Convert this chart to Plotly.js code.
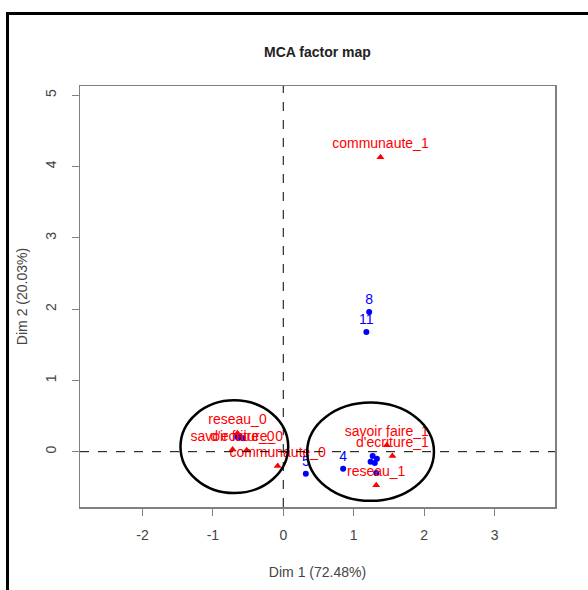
<!DOCTYPE html>
<html>
<head>
<meta charset="utf-8">
<script src="https://cdn.plot.ly/plotly-3.0.1.min.js"></script>
<style>
  html, body { margin: 0; padding: 0; background: #fff; }
  #chart { width: 588px; height: 590px; }
  #frame { position: absolute; left: 6px; top: 12px; width: 600px; height: 600px;
           border-left: 3px solid #000; border-top: 3px solid #000; pointer-events: none; }
</style>
</head>
<body>
<div id="chart"></div>
<div id="frame"></div>
<script>
// Individuals (blue) whose labels are readable
const indNames = ["8", "11", "5", "4"];
const indX = [1.22, 1.18, 0.32, 0.85];
const indY = [1.96, 1.68, -0.31, -0.24];

// Individuals (blue) inside the crowded clusters (labels hidden under the category labels)
const indClusterNames = ["2", "6", "7", "9", "1", "3", "10", "12"];
const indClusterX = [1.27, 1.33, 1.24, 1.30, 1.32, -0.62, -0.57, -0.66];
const indClusterY = [-0.06, -0.10, -0.14, -0.16, -0.30, 0.20, 0.19, 0.21];

// Variable categories (red)
const varNames = ["communaute_1", "communaute_0", "reseau_0", "reseau_1",
                  "savoir faire_0", "d'ecriture_0", "savoir faire_1", "d'ecriture_1"];
const varX = [1.38, -0.08, -0.65, 1.32, -0.72, -0.52, 1.47, 1.55];
const varY = [4.13, -0.20, 0.26, -0.47, 0.03, 0.02, 0.09, -0.06];

// Axis info
const xTicks = [-2, -1, 0, 1, 2, 3];
const yTicks = [0, 1, 2, 3, 4, 5];
const xRange = [-2.887, 3.859];
const yRange = [-0.776, 5.13];

// Hand-drawn ellipses (data coords: x0, x1, y0, y1)
const ellipses = [
  [-1.46, 0.07, -0.58, 0.72],
  [0.34, 2.14, -0.69, 0.69]
];

const labelFont = {family: "Liberation Sans, Arial, sans-serif", size: 14};

const traces = [
  {
    type: "scatter", mode: "markers",
    x: indClusterX, y: indClusterY, text: indClusterNames,
    marker: {color: "#0000ff", size: 6, symbol: "circle"},
    cliponaxis: false, hoverinfo: "text"
  },
  {
    type: "scatter", mode: "markers+text",
    x: indX, y: indY, text: indNames, textposition: "top center",
    marker: {color: "#0000ff", size: 6, symbol: "circle"},
    textfont: Object.assign({}, labelFont, {color: "#0000ff"}),
    cliponaxis: false, hoverinfo: "text"
  },
  {
    type: "scatter", mode: "markers+text",
    x: varX, y: varY, text: varNames, textposition: "top center",
    marker: {color: "#ff0000", size: 7, symbol: "triangle-up"},
    textfont: Object.assign({}, labelFont, {color: "#ff0000"}),
    cliponaxis: false, hoverinfo: "text"
  }
];

const shapes = [
  {type: "line", xref: "x", yref: "paper", x0: 0, x1: 0, y0: 0, y1: 1,
   line: {color: "#000", width: 1, dash: "dash"}},
  {type: "line", xref: "paper", yref: "y", x0: 0, x1: 1, y0: 0, y1: 0,
   line: {color: "#000", width: 1, dash: "dash"}}
].concat(ellipses.map(e => ({
  type: "circle", xref: "x", yref: "y", x0: e[0], x1: e[1], y0: e[2], y1: e[3],
  line: {color: "#000", width: 2.5}
})));

const axisCommon = {
  showgrid: false, zeroline: false,
  showline: true, mirror: true, linecolor: "#808080", linewidth: 1.5,
  ticks: "outside", ticklen: 7, tickcolor: "#808080", tickwidth: 1,
  tickfont: {family: "Liberation Sans, Arial, sans-serif", size: 14, color: "#444"},
  tickmode: "array"
};

const layout = {
  width: 588, height: 590,
  margin: {l: 80, r: 33, t: 86, b: 83},
  paper_bgcolor: "#fff", plot_bgcolor: "#fff",
  showlegend: false,
  title: {
    text: "<b>MCA factor map</b>",
    font: {family: "Liberation Sans, Arial, sans-serif", size: 14, color: "#222"},
    x: 0.5, xref: "paper", xanchor: "center",
    y: 1 - 52 / 590, yref: "container", yanchor: "middle"
  },
  xaxis: Object.assign({}, axisCommon, {
    range: xRange, tickvals: xTicks, ticktext: xTicks.map(String),
    ticklabelstandoff: 8,
    title: {text: "Dim 1 (72.48%)", standoff: 25,
            font: {family: "Liberation Sans, Arial, sans-serif", size: 14, color: "#444"}}
  }),
  yaxis: Object.assign({}, axisCommon, {
    range: yRange, tickvals: yTicks, ticktext: yTicks.map(String),
    tickangle: -90, ticklabelstandoff: 10,
    title: {text: "Dim 2 (20.03%)", standoff: 12,
            font: {family: "Liberation Sans, Arial, sans-serif", size: 14, color: "#444"}}
  }),
  shapes: shapes
};

Plotly.newPlot("chart", traces, layout, {displayModeBar: false, staticPlot: true});
</script>
</body>
</html>
